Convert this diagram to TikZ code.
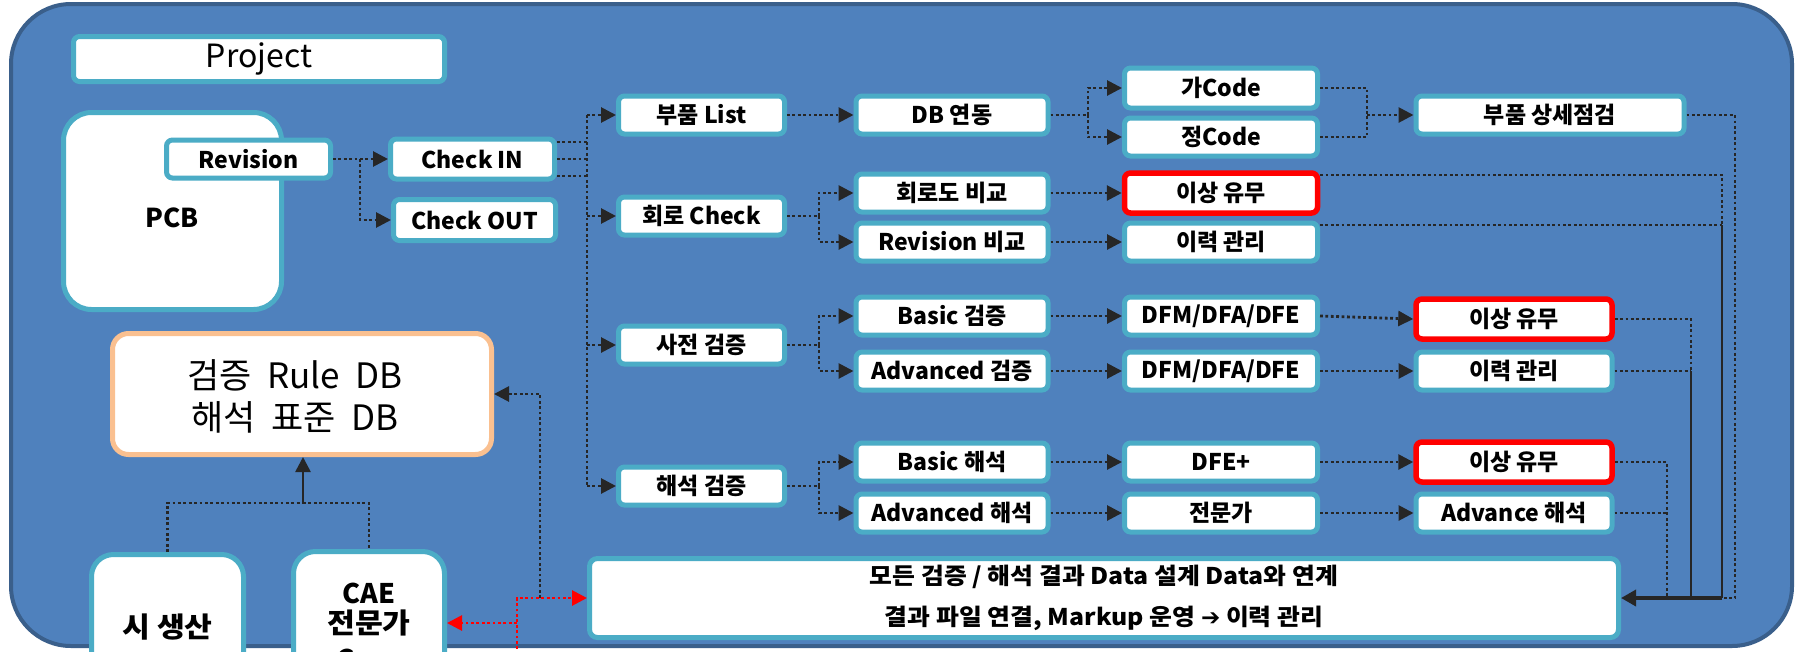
\documentclass[tikz,border=0pt]{standalone}
\usepackage{fontspec}
\setmainfont{Noto Sans CJK KR}
\newfontfamily\dbfont[WordSpace=2]{Noto Sans CJK KR}
\newfontfamily\botfont[FakeStretch=1.08]{Noto Sans CJK KR}
\newfontfamily\arrowfont{DejaVu Sans}
\usetikzlibrary{arrows.meta}
\definecolor{bgblue}{HTML}{4F81BD}
\definecolor{bgedge}{HTML}{3A5F8B}
\definecolor{boxedge}{HTML}{4BACC6}
\definecolor{lineblack}{HTML}{262626}
\definecolor{dborange}{HTML}{FAC090}
\tikzset{
  lbl/.style={draw=boxedge, line width=5pt, fill=white, rounded corners=6pt,
    font=\bfseries\fontsize{23}{26}\selectfont, inner sep=0pt, text=black},
  redlbl/.style={lbl, draw=red, line width=5.5pt},
  dotc/.style={draw=lineblack, line width=2.8pt, dash pattern=on 2.8pt off 2.6pt},
  redc/.style={draw=red, line width=2.8pt, dash pattern=on 2.8pt off 2.6pt},
  solidc/.style={draw=lineblack, line width=2.6pt},
  arr/.style={-{Triangle[length=15pt,width=15pt]}},
  txt/.style={inner sep=0pt, text=black},
  bigtxt/.style={txt, font=\botfont\bfseries\fontsize{28}{30}\selectfont},
}
\begin{document}
\begin{tikzpicture}[x=1pt,y=-1pt]
\useasboundingbox (0,0) rectangle (1798,651);
\clip (0,0) rectangle (1798,651);
\fill[white] (0,0) rectangle (1798,651);
\draw[fill=bgblue, draw=bgedge, line width=4pt, rounded corners=60pt] (11,4) rectangle (1792,646);

% left column
\node[lbl, font=\fontsize{32}{36}\selectfont, minimum width=371pt, minimum height=45pt] (proj) at (259,59) {Project};
\node[lbl, rounded corners=28pt, minimum width=218pt, minimum height=197pt] (pcb) at (172.5,211) {};
\node[txt, font=\bfseries\fontsize{26}{30}\selectfont] (pcbt) at (172,218) {PCB};
\node[lbl, minimum width=164pt, minimum height=38pt] (rev) at (248.5,159) {Revision};
\node[lbl, minimum width=164pt, minimum height=40pt] (ci) at (472.5,159) {Check IN};
\node[lbl, minimum width=162pt, minimum height=41pt] (co) at (474.5,220) {Check OUT};

% column 1
\node[lbl, minimum width=166pt, minimum height=38pt] (bl) at (701.5,115) {부품 List};
\node[lbl, minimum width=166pt, minimum height=38pt] (hc) at (701.5,216) {회로 Check};
\node[lbl, minimum width=166pt, minimum height=38pt] (sj) at (701.5,345) {사전 검증};
\node[lbl, minimum width=166pt, minimum height=38pt] (hs) at (701.5,486) {해석 검증};

% column 2
\node[lbl, minimum width=192pt, minimum height=38pt] (db) at (952,115) {DB 연동};
\node[lbl, minimum width=192pt, minimum height=38pt] (hd) at (952,193) {회로도 비교};
\node[lbl, minimum width=192pt, minimum height=38pt] (rv) at (952,242) {Revision 비교};
\node[lbl, minimum width=192pt, minimum height=38pt] (bv) at (952,316) {Basic 검증};
\node[lbl, minimum width=192pt, minimum height=38pt] (av) at (952,371) {Advanced 검증};
\node[lbl, minimum width=192pt, minimum height=38pt] (bh) at (952,462) {Basic 해석};
\node[lbl, minimum width=192pt, minimum height=38pt] (ah) at (952,513) {Advanced 해석};

% column 3
\node[lbl, minimum width=193pt, minimum height=40pt] (ga) at (1221,88) {가Code};
\node[lbl, minimum width=193pt, minimum height=38pt] (jeong) at (1221,137) {정Code};
\node[redlbl, minimum width=193pt, minimum height=40pt] (ab1) at (1221,193) {이상 유무};
\node[lbl, minimum width=193pt, minimum height=38pt] (hist1) at (1221,242) {이력 관리};
\node[lbl, minimum width=193pt, minimum height=38pt] (dfm1) at (1221,316) {DFM/DFA/DFE};
\node[lbl, minimum width=193pt, minimum height=38pt] (dfm2) at (1221,371) {DFM/DFA/DFE};
\node[lbl, minimum width=193pt, minimum height=38pt] (dfe) at (1221,462) {DFE+};
\node[lbl, minimum width=193pt, minimum height=38pt] (exp) at (1221,513) {전문가};

% column 4
\node[lbl, minimum width=268pt, minimum height=38pt] (pd) at (1550,115) {부품 상세점검};
\node[redlbl, minimum width=196pt, minimum height=40pt] (ab2) at (1514,319) {이상 유무};
\node[lbl, minimum width=196pt, minimum height=38pt] (hist2) at (1514,371) {이력 관리};
\node[redlbl, minimum width=196pt, minimum height=40pt] (ab3) at (1514,462) {이상 유무};
\node[lbl, minimum width=196pt, minimum height=38pt] (adv) at (1514,513) {Advance 해석};

% bottom box
\node[lbl, rounded corners=8pt, minimum width=1029pt, minimum height=79pt, align=center,
  font=\botfont\bfseries\fontsize{23}{41}\selectfont] (bot) at (1104,598)
  {모든 검증 / 해석 결과 Data 설계 Data와 연계\\결과 파일 연결, Markup 운영 {\arrowfont\bfseries ➔} 이력 관리};

% DB box
\node[lbl, draw=dborange, rounded corners=16pt, minimum width=379pt, minimum height=121pt] (dbr) at (302,394) {};
\node[txt, align=center, font=\dbfont\fontsize{35}{42}\selectfont] (dbt) at (295,396) {검증 Rule DB\\해석 표준 DB};

% bottom-left boxes
\node[lbl, rounded corners=22pt, minimum width=152pt, minimum height=200pt] (sis) at (167.5,654.5) {};
\node[bigtxt] (sist) at (167.5,627) {시 생산};
\node[lbl, rounded corners=22pt, minimum width=151pt, minimum height=200pt] (cae) at (369,651.5) {};
\node[txt, font=\bfseries\fontsize{27}{30}\selectfont] (caet1) at (369,593) {CAE};
\node[bigtxt] (caet2) at (369,623) {전문가};
\node[txt, font=\bfseries\fontsize{27}{30}\selectfont, anchor=west] (caet3) at (336,659) {C};

% connectors: left
\coordinate (rsplit) at (360,159);
\draw[dotc,arr] (rev.east) -- (ci.west);
\draw[dotc,arr] (rsplit) |- (co.west);

\coordinate (tr) at (587,0);
\coordinate (ciA) at ([yshift=17pt]ci.east);
\coordinate (ciC) at ([yshift=-17pt]ci.east);
\draw[dotc] (ciA) -- (ciA -| tr);
\draw[dotc] (ci.east) -- (ci.east -| tr);
\draw[dotc] (ciC) -- (ciC -| tr);
\draw[dotc] (tr |- bl.west) -- (tr |- hs.west);
\foreach \n in {bl,hc,sj,hs} { \draw[dotc,arr] (tr |- \n.west) -- (\n.west); }

% column 1 -> 2
\coordinate (b2) at (819,0);
\draw[dotc,arr] (bl.east) -- (db.west);
\draw[dotc] (hc.east) -- (hc.east -| b2);
\draw[dotc,arr] (hc.east -| b2) |- (hd.west);
\draw[dotc,arr] (hc.east -| b2) |- (rv.west);
\draw[dotc] (sj.east) -- (sj.east -| b2);
\draw[dotc,arr] (sj.east -| b2) |- (bv.west);
\draw[dotc,arr] (sj.east -| b2) |- (av.west);
\draw[dotc] (hs.east) -- (hs.east -| b2);
\draw[dotc,arr] (hs.east -| b2) |- (bh.west);
\draw[dotc,arr] (hs.east -| b2) |- (ah.west);

% column 2 -> 3
\coordinate (b3) at (1088,0);
\draw[dotc] (db.east) -- (db.east -| b3);
\draw[dotc,arr] (db.east -| b3) |- (ga.west);
\draw[dotc,arr] (db.east -| b3) |- (jeong.west);
\draw[dotc,arr] (hd.east) -- (ab1.west);
\draw[dotc,arr] (rv.east) -- (hist1.west);
\draw[dotc,arr] (bv.east) -- (dfm1.west);
\draw[dotc,arr] (av.east) -- (dfm2.west);
\draw[dotc,arr] (bh.east) -- (dfe.west);
\draw[dotc,arr] (ah.east) -- (exp.west);

% column 3 -> 4
\coordinate (m3) at (1367,115);
\draw[dotc] (ga.east) -| (m3);
\draw[dotc] (jeong.east) -| (m3);
\draw[dotc,arr] (m3) -- (pd.west);
\draw[dotc,arr] (dfm1.east) -- (ab2.west);
\draw[dotc,arr] (dfm2.east) -- (hist2.west);
\draw[dotc,arr] (dfe.east) -- (ab3.west);
\draw[dotc,arr] (exp.east) -- (adv.west);

% right collectors
\coordinate (cA) at (1735,598);
\coordinate (cB) at (1722,598);
\coordinate (cC) at (1691,598);
\coordinate (cD) at (1667,598);
\coordinate (ab1t) at ([yshift=18pt]ab1.east);
\coordinate (h1t) at ([yshift=17pt]hist1.east);
\draw[dotc] (pd.east) -| (cA) -- (cB);
\draw[dotc] (ab1t) -| (cB |- h1t);
\draw[dotc] (h1t) -- (cB |- h1t);
\draw[solidc] (cB |- h1t) -- (cB);
\draw[dotc] (ab2.east) -| (cC |- hist2.east);
\draw[dotc] (hist2.east) -- (cC |- hist2.east);
\draw[solidc] (cC |- hist2.east) -- (cC);
\draw[dotc] (ab3.east) -| (cD);
\draw[dotc] (adv.east) -- (cD |- adv.east);
\draw[solidc, line width=3.5pt, -{Triangle[length=15pt,width=16pt]}] (cB) -- (bot.east);

% bottom-left connectors
\coordinate (jn) at (303,503);
\draw[dotc] (sis.north) |- (jn);
\draw[dotc] (jn) -| (cae.north);
\draw[solidc, arr] (jn) -- (jn |- dbr.south);
\coordinate (rb) at (540,598);
\draw[dotc,arr] (rb) |- (dbr.east);
\coordinate (rd) at (517,660);
\coordinate (rk) at (517,623);
\draw[redc,arr] (rd) |- (bot.west);
\draw[redc,arr] (rk) -- (rk -| cae.east);
\end{tikzpicture}
\end{document}
